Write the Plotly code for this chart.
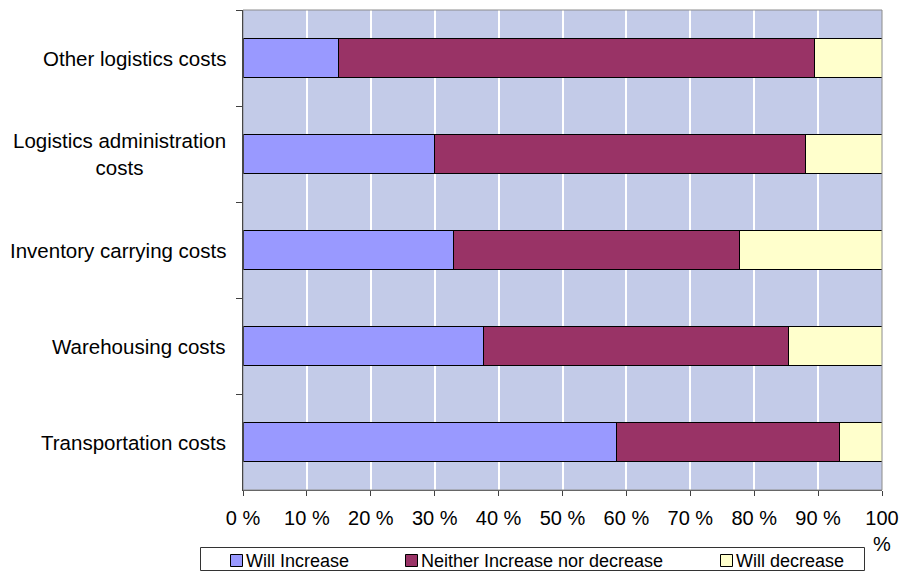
import plotly.graph_objects as go

# Cost categories, top to bottom
categories = [
    "Other logistics costs",
    "Logistics administration<br>costs",
    "Inventory carrying costs",
    "Warehousing costs",
    "Transportation costs",
]

# Share of respondents (%) per expected change
will_increase = [14.9, 30.0, 32.9, 37.6, 58.5]
neither = [74.5, 58.1, 44.8, 47.8, 34.9]
will_decrease = [10.6, 11.9, 22.3, 14.6, 6.6]

series_names = ["Will Increase", "Neither Increase nor decrease", "Will decrease"]
series_colors = ["#9999FF", "#993366", "#FFFFCC"]

tick_values = [0, 10, 20, 30, 40, 50, 60, 70, 80, 90, 100]
tick_labels = ["0 %", "10 %", "20 %", "30 %", "40 %", "50 %", "60 %",
               "70 %", "80 %", "90 %", "100<br>%"]

FONT = "Arial, 'Liberation Sans', sans-serif"
W, H = 903, 571
M_L, M_R, M_T, M_B = 243, 21, 10, 81
PW, PH = W - M_L - M_R, H - M_T - M_B


def px_x(px):
    """Page x pixel -> paper x."""
    return (px - M_L) / PW


def px_y(py):
    """Page y pixel -> paper y."""
    return (H - M_B - py) / PH


fig = go.Figure()
for name, vals, color in zip(series_names, [will_increase, neither, will_decrease], series_colors):
    fig.add_trace(go.Bar(
        name=name,
        y=categories,
        x=vals,
        orientation="h",
        width=0.4,
        marker=dict(color=color, line=dict(color="#000000", width=1)),
        showlegend=False,
    ))

# Category labels, centred per line
for cat in categories:
    fig.add_annotation(
        x=0, xref="paper", xanchor="right", xshift=-15,
        y=cat, yref="y", yanchor="middle",
        text=cat, showarrow=False, align="center",
        font=dict(family=FONT, size=20.5, color="#000000"),
    )

# Light grey frame on top and right of the plot area
fig.add_shape(type="rect", xref="paper", yref="paper", x0=0, x1=1, y0=0, y1=1,
              line=dict(color="#8C8C8C", width=1), layer="above")

# Boxed legend below the chart
fig.add_shape(type="rect", xref="paper", yref="paper",
              x0=px_x(200.5), x1=px_x(864.5), y0=px_y(547.5), y1=px_y(570.5),
              line=dict(color="#333333", width=1), fillcolor="#FFFFFF")
legend_left = [230, 405, 720]
for left, name, color in zip(legend_left, series_names, series_colors):
    fig.add_shape(type="rect", xref="paper", yref="paper",
                  x0=px_x(left + 0.5), x1=px_x(left + 12.5),
                  y0=px_y(554.5), y1=px_y(566.5),
                  line=dict(color="#000000", width=1), fillcolor=color)
    fig.add_annotation(
        x=px_x(left + 14), xref="paper", xanchor="left",
        y=px_y(560.5), yref="paper", yanchor="middle",
        text=name, showarrow=False,
        font=dict(family=FONT, size=18, color="#000000"),
    )

fig.update_layout(
    width=W, height=H,
    margin=dict(l=M_L, r=M_R, t=M_T, b=M_B, autoexpand=False),
    barmode="stack",
    paper_bgcolor="#FFFFFF",
    plot_bgcolor="#C3CBE8",
    font=dict(family=FONT, size=20, color="#000000"),
    showlegend=False,
    xaxis=dict(
        range=[0, 100],
        tickvals=tick_values,
        ticktext=tick_labels,
        showgrid=True, gridcolor="#FFFFFF", gridwidth=2,
        zeroline=False,
        showline=True, linecolor="#404040", linewidth=1,
        ticks="outside", ticklen=5, tickcolor="#404040",
        ticklabelstandoff=5,
        tickfont=dict(family=FONT, size=20, color="#000000"),
        automargin=False,
        fixedrange=True,
    ),
    yaxis=dict(
        type="category",
        autorange="reversed",
        showticklabels=False,
        showgrid=False,
        zeroline=False,
        showline=True, linecolor="#000000", linewidth=1,
        ticks="outside", ticklen=6, tickcolor="#404040",
        tickson="boundaries",
        automargin=False,
        fixedrange=True,
    ),
)

fig.write_html("out.html")
